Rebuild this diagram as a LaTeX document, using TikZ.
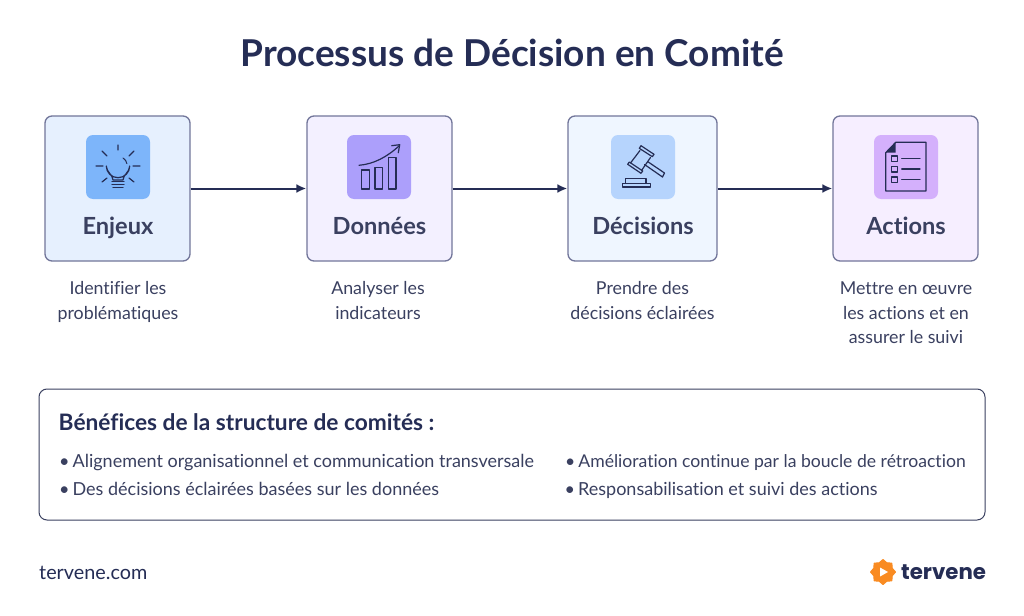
\documentclass[tikz,border=0pt]{standalone}
\usepackage{fontspec}
\setmainfont{Lato}[RawFeature=-liga]
\newfontfamily\logofont{Poppins}
\definecolor{ink}{HTML}{252D55}
\definecolor{txt}{HTML}{3A4060}
\definecolor{edge}{HTML}{72769A}
\definecolor{fa}{HTML}{E6F0FE}\definecolor{ia}{HTML}{7DB5FA}
\definecolor{fb}{HTML}{F3F0FF}\definecolor{ib}{HTML}{AC9FFB}
\definecolor{fc}{HTML}{EFF6FF}\definecolor{ic}{HTML}{B6D4FD}
\definecolor{fd}{HTML}{F6EEFF}\definecolor{id}{HTML}{D4B0FC}
\definecolor{orng}{HTML}{F98B22}
\usetikzlibrary{arrows.meta}
\tikzset{
 card/.style={draw=edge,line width=1.3pt,rounded corners=7pt,minimum height=145pt,inner sep=0pt},
 tile/.style={rounded corners=7pt,minimum width=64pt,minimum height=64pt,inner sep=0pt},
 cardtitle/.style={font=\fontsize{23.6}{26}\selectfont\bfseries,text=txt,inner sep=0pt},
 caption/.style={font=\fontsize{17.8}{24.5}\selectfont,text=txt,align=center,inner sep=0pt},
 arr/.style={draw=ink,line width=2pt,-{Latex[length=10pt,width=9pt]}},
 icn/.style={draw=ink,line width=1.2pt,line cap=round,line join=round},
 bullet/.style={font=\fontsize{18}{20}\selectfont,text=txt,anchor=base west,inner sep=0pt},
}
\begin{document}
\begin{tikzpicture}[x=1pt,y=-1pt]
\useasboundingbox (0,0) rectangle (1024,615);
\fill[white] (0,0) rectangle (1024,615);
\node[font=\fontsize{37}{42}\selectfont\bfseries,text=ink,inner sep=0pt] (title) at (512,53) {Processus de Décision en Comité};
% cards
\node[card,fill=fa,minimum width=145pt] (c1) at (117.5,188.5) {};
\node[card,fill=fb,minimum width=145pt] (c2) at (379.5,188.5) {};
\node[card,fill=fc,minimum width=149pt] (c3) at (642.5,188.5) {};
\node[card,fill=fd,minimum width=145pt] (c4) at (905.5,188.5) {};
\node[tile,fill=ia] (t1) at (118,167) {};
\node[tile,fill=ib] (t2) at (379,167) {};
\node[tile,fill=ic] (t3) at (643,167) {};
\node[tile,fill=id] (t4) at (906,167) {};
\draw[arr] (c1) -- (c2);
\draw[arr] (c2) -- (c3);
\draw[arr] (c3) -- (c4);
\node[cardtitle,anchor=base] (n1) at (118,234) {Enjeux};
\node[cardtitle,anchor=base] (n2) at (379.5,234) {Données};
\node[cardtitle,anchor=base] (n3) at (643,234) {Décisions};
\node[cardtitle,anchor=base] (n4) at (906,234) {Actions};
\node[caption] (d1) at (118,302) {Identifier les\\problématiques};
\node[caption] (d2) at (378,300.5) {Analyser les\\indicateurs};
\node[caption] (d3) at (642.5,300.5) {Prendre des\\décisions éclairées};
\node[caption] (d4) at (906,313) {Mettre en œuvre\\les actions et en\\assurer le suivi};
% bulb
\begin{scope}[shift={(118,167)}]
\draw[icn] (-5,13) .. controls (-5,8) and (-11.7,5) .. (-11.7,-1) arc[start angle=180,end angle=0,radius=11.7] .. controls (11.7,5) and (5,8) .. (5,13) -- cycle;
\draw[icn] (-6,14.5) -- (6,14.5) (-6,17.5) -- (6,17.5) (-5,20.5) -- (5,20.5);
\draw[icn,line width=1pt] (5,-9) arc[start angle=-60,end angle=-10,radius=8];
\draw[icn] (0,-22) -- (0,-17) (-22,-1) -- (-15,-1) (22,-1) -- (15,-1) (-16,-16) -- (-11,-11) (16,-16) -- (11,-11) (-16,15) -- (-11,11) (16,15) -- (11,11);
\end{scope}
% chart
\begin{scope}[shift={(379,167)}]
\draw[icn] (-17.7,3) rectangle (-9.3,22) (-4,0.7) rectangle (3.7,22) (9.3,-9.7) rectangle (17,22);
\draw[icn] (-20,-1.7) .. controls (-5,-3) and (8,-10) .. (20.3,-21.3);
\draw[icn] (12.7,-21.3) -- (20.7,-22.3) -- (19.3,-14.3);
\end{scope}
% gavel
\begin{scope}[shift={(643,167)}]
\draw[icn] (-2,-21.3) -- (11,-12.7) -- (9.3,-10.3) -- (-3.7,-18.7) -- cycle;
\draw[icn] (-15.3,-2.7) -- (-2,6.3) -- (-0.3,4) -- (-13.7,-5) -- cycle;
\draw[icn] (-3,-16.5) -- (-12.5,-4) (7.5,-9.5) -- (-1.5,3.5);
\draw[icn] (4.5,-5.5) -- (21.5,6) -- (19.5,10) -- (1.5,-2.5);
\draw[icn] (-17.3,16.3) -- (-17.3,11.3) -- (3,11.3) -- (3,16.3);
\draw[icn] (-20.7,16.3) rectangle (7.7,20);
\end{scope}
% checklist
\begin{scope}[shift={(906,167)}]
\draw[icn] (-10.3,-24.7) -- (20,-24.7) -- (20,24) -- (-20.3,24) -- (-20.3,-14.3) -- cycle;
\fill[ink] (-10.3,-24.7) -- (-10.3,-14.3) -- (-20.3,-14.3) -- cycle;
\draw[icn] (-14.3,-11) rectangle (-8.3,-5.3) (-14.3,-0.7) rectangle (-8.3,5) (-14.3,10) rectangle (-8.3,15.7);
\draw[icn] (-4.3,-8.3) -- (14,-8.3) (-4.3,2) -- (14,2) (-4.3,12.7) -- (14,12.7);
\end{scope}
% panel
\node[draw=txt,line width=1pt,rounded corners=8pt,minimum width=946pt,minimum height=131pt,inner sep=0pt] (panel) at (512,454.5) {};
\node[font=\fontsize{22.7}{26}\selectfont\bfseries,text=ink,anchor=base west,inner sep=0pt] (ph) at (58.5,430) {Bénéfices de la structure de comités :};
\node[bullet] (b1) at (59,467.5) {•\hspace{3pt}Alignement organisationnel et communication transversale};
\node[bullet] (b2) at (59,495.5) {•\hspace{3pt}Des décisions éclairées basées sur les données};
\node[bullet,font=\fontsize{17.6}{20}\selectfont] (b3) at (565,467.5) {•\hspace{3pt}Amélioration continue par la boucle de rétroaction};
\node[bullet] (b4) at (564.5,495.5) {•\hspace{3pt}Responsabilisation et suivi des actions};
\node[font=\fontsize{19.8}{24}\selectfont,text=ink,anchor=base west,inner sep=0pt] (site) at (39,579) {tervene.com};
% logo
\begin{scope}[shift={(883,572)}]
\fill[orng,line join=round,draw=orng,line width=1pt]
 (90:12.5) \foreach \a in {112.5,135,...,450} { -- (\a:{mod(\a-90,45)==0 ? 12.5 : 10}) } -- cycle;
\fill[white] (-3,-4.5) -- (5,0) -- (-3,4.5) -- cycle;
\end{scope}
\node[font=\logofont\fontsize{21.3}{26}\selectfont\bfseries,text=ink,anchor=west,inner sep=0pt] (logo) at (901,572) {tervene};
\end{tikzpicture}
\end{document}
